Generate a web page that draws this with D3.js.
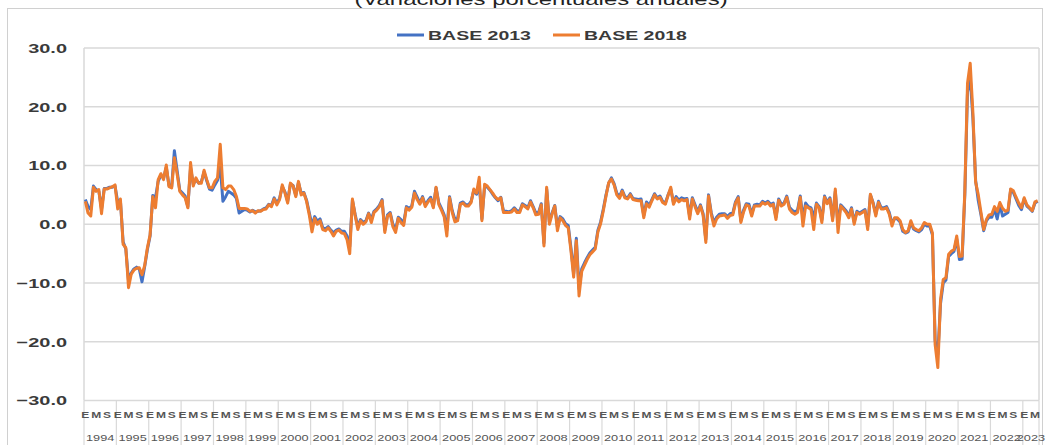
<!DOCTYPE html>
<html><head><meta charset="utf-8">
<script src="https://cdn.jsdelivr.net/npm/d3@7"></script>
<style>body{margin:0;background:#fff}svg{display:block}text{font-family:"Liberation Sans",Arial,sans-serif}</style>
</head><body><svg id="c" width="1046" height="445"></svg>
<script>
const years = [1994,1995,1996,1997,1998,1999,2000,2001,2002,2003,2004,2005,2006,2007,2008,2009,2010,2011,2012,2013,2014,2015,2016,2017,2018,2019,2020,2021,2022,2023];
const monthLetters = ["E","","","","M","","","","S","","",""];
const yTicks = [30,20,10,0,-10,-20,-30];
const seriesNames = ["BASE 2013","BASE 2018"];
const seriesColors = ["#4472C4","#ED7D31"];
const titleText = "(Variaciones porcentuales anuales)";

const base2013 = [
4.2,3.0,2.5,6.5,5.9,5.6,2.6,6.1,6.1,6.3,6.3,6.5,
3.8,4.0,-3.0,-4.2,-9.6,-8.3,-7.6,-7.3,-7.6,-9.8,-7.2,-4.3,
-2.0,4.9,4.5,7.3,8.3,7.9,9.7,6.6,6.4,12.5,9.2,5.8,
5.3,4.8,3.0,9.6,6.8,7.6,7.0,7.2,8.9,7.4,6.0,5.8,
6.7,7.5,9.9,3.9,4.7,5.6,5.3,5.0,4.4,1.9,2.2,2.5,
2.4,2.1,2.4,2.1,2.2,2.3,2.6,2.8,3.4,3.2,4.5,3.6,
4.4,6.4,5.5,3.9,6.8,6.6,4.9,7.1,5.3,5.4,4.1,2.0,
-0.2,1.3,0.5,0.9,-0.6,-0.8,-0.4,-1.0,-1.5,-1.0,-0.8,-1.2,
-1.2,-2.0,-3.8,4.1,1.7,-0.4,0.8,0.3,0.6,1.9,0.8,2.2,
2.6,3.2,4.2,-1.0,1.6,2.0,0.0,-0.9,1.2,0.8,0.2,3.0,
2.7,3.1,5.6,4.6,3.6,4.7,3.3,4.0,4.6,3.0,6.2,3.7,
2.7,1.6,-1.0,4.7,2.3,0.8,1.0,3.6,3.8,3.3,3.3,3.9,
5.8,5.1,6.8,0.9,6.5,6.3,5.8,5.1,4.5,4.0,4.6,2.2,
2.2,2.1,2.3,2.8,2.3,2.2,3.5,3.2,2.8,4.0,3.0,1.9,
2.0,3.5,-3.2,6.0,0.4,1.9,3.2,-0.5,1.3,0.9,0.1,-0.2,
-4.0,-8.4,-2.4,-11.0,-7.6,-6.6,-5.7,-4.9,-4.4,-3.9,-1.0,0.4,
2.6,5.0,7.0,7.9,6.9,5.3,4.7,5.8,4.7,4.5,5.2,4.4,
4.3,4.2,4.3,1.5,3.8,3.2,4.2,5.2,4.5,4.8,3.9,3.6,
5.0,6.0,3.7,4.7,4.1,4.5,4.3,4.4,1.4,4.5,3.3,2.1,
3.3,1.8,-2.6,5.0,2.0,0.2,1.2,1.7,1.8,1.8,1.3,1.8,
1.9,3.8,4.7,0.6,2.4,3.5,3.4,1.7,3.3,3.4,3.3,3.9,
3.6,3.9,3.4,3.6,1.2,4.3,3.4,3.6,4.8,2.9,2.4,2.1,
2.4,4.8,1.0,3.6,3.0,2.8,1.0,3.6,3.0,0.7,4.8,3.7,
4.5,1.0,5.6,0.0,3.3,2.8,2.3,1.4,2.8,0.4,2.2,1.9,
2.2,2.5,-0.4,5.0,3.7,1.7,3.9,2.8,2.8,3.0,2.0,0.2,
1.0,0.9,0.4,-1.2,-1.5,-1.3,0.3,-0.8,-1.1,-1.3,-0.9,0.0,
-0.3,-0.3,-1.8,-19.8,-22.1,-13.5,-10.0,-9.5,-5.5,-5.0,-4.6,-2.5,
-6.0,-5.9,5.0,22.5,25.0,18.0,7.5,4.0,1.6,-1.1,0.6,1.2,
1.2,2.6,0.9,3.3,1.4,1.7,2.0,5.9,5.4,4.3,3.2,2.5,
4.3,3.1,2.7,2.2,3.6,3.9
];

const base2018 = [
3.9,1.9,1.4,6.3,5.6,5.9,1.8,6.0,6.0,6.2,6.4,6.7,
2.6,4.3,-3.4,-4.0,-10.8,-8.5,-7.8,-7.5,-7.4,-8.6,-7.0,-4.0,
-1.8,4.7,2.8,7.6,8.6,7.6,10.1,6.4,6.2,11.3,8.6,5.6,
5.0,4.5,2.8,10.5,6.5,7.9,7.0,7.0,9.2,7.6,6.2,6.2,
7.3,7.9,13.6,6.2,5.9,6.5,6.5,5.9,4.7,2.7,2.7,2.7,
2.6,2.2,2.3,1.9,2.3,2.2,2.5,2.6,3.3,3.0,4.3,3.3,
4.2,6.7,5.3,3.6,7.0,6.5,4.7,7.3,5.0,5.3,3.9,1.6,
-1.3,1.0,0.0,0.6,-0.9,-1.1,-0.6,-1.2,-2.0,-1.2,-1.0,-1.5,
-1.6,-2.6,-5.0,4.3,1.5,-0.9,0.6,0.0,0.4,1.8,0.3,2.0,
2.4,3.0,4.0,-1.4,1.4,1.8,-0.4,-1.4,1.0,0.3,-0.2,2.8,
2.4,2.9,5.3,4.2,3.4,4.5,3.0,3.8,4.3,2.8,6.3,3.4,
2.4,1.3,-2.0,4.5,2.0,0.4,0.6,3.4,3.6,3.1,3.1,3.7,
6.0,5.3,8.0,0.6,6.8,6.5,5.9,5.3,4.6,4.2,4.5,2.0,
2.0,2.0,2.1,2.6,2.0,2.0,3.3,3.0,2.6,3.8,2.8,1.6,
1.7,3.3,-3.7,6.3,0.0,1.7,3.1,-1.1,1.1,0.6,-0.2,-0.6,
-4.5,-9.0,-2.8,-12.2,-8.0,-7.0,-6.0,-5.2,-4.7,-4.2,-1.3,0.1,
2.3,4.8,7.1,7.7,6.7,5.0,4.4,5.6,4.5,4.3,5.0,4.2,
4.1,4.0,4.0,1.1,3.5,2.9,4.0,5.0,4.3,4.6,3.7,3.4,
4.9,6.3,3.4,4.4,3.8,4.2,4.0,4.2,0.9,4.3,3.0,1.8,
3.1,1.5,-3.1,4.8,1.7,-0.3,0.9,1.4,1.5,1.6,1.0,1.5,
1.6,3.6,4.5,0.3,2.1,3.3,3.1,1.4,3.1,3.1,3.1,3.7,
3.4,3.7,3.1,3.4,0.8,4.1,3.1,3.4,4.6,2.6,2.0,1.7,
2.0,4.6,-0.3,3.1,2.8,2.5,-0.9,3.4,2.8,0.3,4.6,3.5,
4.3,0.6,6.0,-1.4,3.1,2.6,2.0,1.1,2.6,0.0,2.0,1.7,
2.0,2.3,-0.9,5.1,3.5,1.4,3.7,2.6,2.6,2.8,1.7,-0.3,
1.1,1.1,0.6,-0.9,-1.4,-1.1,0.6,-0.6,-0.9,-1.1,-0.6,0.3,
0.0,0.0,-1.5,-20.5,-24.4,-12.8,-9.4,-9.1,-5.1,-4.6,-4.3,-2.0,
-5.5,-5.4,5.5,24.0,27.4,19.0,7.2,5.0,2.0,-0.9,0.8,1.6,
1.7,3.0,2.2,3.7,2.7,2.2,2.4,6.0,5.7,4.6,3.6,2.8,
4.5,3.3,2.8,2.3,3.8,4.0
];

const svg = d3.select("#c");
const N = base2018.length;
const cats = d3.range(N);
const plot = {left:84, right:1039, top:48, bottom:400.5};
const x = d3.scaleBand().domain(cats).range([plot.left, plot.right]).padding(0);
const xc = i => x(i) + x.bandwidth()/2;
const y = d3.scaleLinear().domain([-30,30]).range([plot.bottom, plot.top]);
const SX = 1.45; // horizontal stretch of the reference picture

function stext(sel, tx, ty, str, o) {
  return sel.append("text")
    .attr("transform", `translate(${tx},${ty}) scale(${o.sx||SX},1)`)
    .attr("text-anchor", o.anchor||"middle")
    .attr("font-size", o.size)
    .attr("font-weight", o.weight||"normal")
    .attr("fill", o.fill||"#595959")
    .text(str);
}

// outer chart border
svg.append("rect").attr("x",7.5).attr("y",8.5).attr("width",1035).attr("height",460)
  .attr("fill","none").attr("stroke","#d0d0d0").attr("stroke-width",1);

// title (cut at top)
stext(svg, 541, 5, titleText, {size:16.5, fill:"#222", sx:1.45});

// gridlines
svg.append("g").selectAll("line").data(yTicks).join("line")
  .attr("x1",plot.left).attr("x2",plot.right)
  .attr("y1",d=>y(d)).attr("y2",d=>y(d))
  .attr("stroke","#d9d9d9").attr("stroke-width",1.5);
svg.append("line").attr("x1",plot.left).attr("x2",plot.left).attr("y1",plot.top).attr("y2",plot.bottom)
  .attr("stroke","#d9d9d9").attr("stroke-width",1.5);
svg.append("line").attr("x1",plot.right).attr("x2",plot.right).attr("y1",plot.top).attr("y2",plot.bottom)
  .attr("stroke","#d9d9d9").attr("stroke-width",1.5);

// y labels
const gy = svg.append("g");
yTicks.forEach(v => stext(gy, 67, y(v)+4.8, d3.format(".1f")(v), {size:13.3, weight:"bold", anchor:"end", fill:"#3a3a3a", sx:1.5}));

// x axis: year separators
const yearStarts = years.map((yr,k)=>k*12).filter(i=>i<N);
svg.append("g").selectAll("line").data(yearStarts.concat([N])).join("line")
  .attr("x1",d=> d<N ? x(d) : plot.right).attr("x2",d=> d<N ? x(d) : plot.right)
  .attr("y1",plot.bottom).attr("y2",445)
  .attr("stroke","#d9d9d9").attr("stroke-width",1.2);

// month letters
const gm = svg.append("g");
cats.forEach(i => {
  const l = monthLetters[i%12];
  if (l) stext(gm, xc(i), 417.5, l, {size:9.6, weight:"bold", fill:"#555", sx:1.25});
});
// year labels
const gyr = svg.append("g");
years.forEach((yr,k) => {
  const s = k*12, e = Math.min(N, s+12);
  if (s>=N) return;
  const cx = (x(s) + (e<N ? x(e) : plot.right))/2;
  stext(gyr, cx, 441, String(yr), {size:9.6, fill:"#555", sx:1.33});
});

// lines
const line = d3.line().x((d,i)=>xc(i)).y(d=>y(d));
[base2013, base2018].forEach((s,k)=>{
  svg.append("path").datum(s).attr("d",line).attr("fill","none")
    .attr("stroke",seriesColors[k]).attr("stroke-width",3).attr("stroke-linejoin","round");
});

// legend
const legX = [397, 553];
seriesNames.forEach((n,k)=>{
  svg.append("line").attr("x1",legX[k]).attr("x2",legX[k]+27).attr("y1",35).attr("y2",35)
    .attr("stroke",seriesColors[k]).attr("stroke-width",3);
  stext(svg, legX[k]+31, 39.5, n, {size:13, weight:"bold", anchor:"start", fill:"#3a3a3a", sx:1.5});
});
</script></body></html>
